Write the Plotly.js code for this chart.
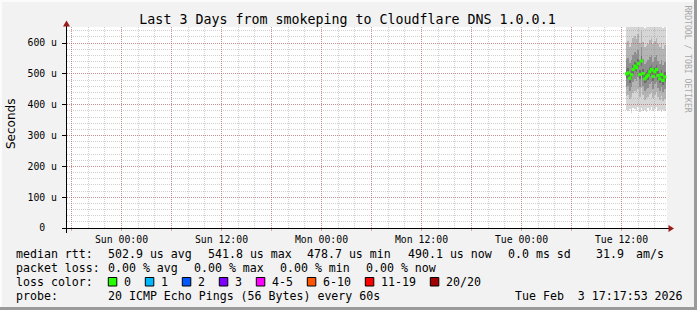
<!DOCTYPE html>
<html><head><meta charset="utf-8">
<script src="https://cdn.plot.ly/plotly-3.0.1.min.js"></script>
<style>html,body{margin:0;padding:0;background:#f2f2f2;}#chart{width:697px;height:310px;}</style>
</head><body><div id="chart"></div>
<script>
// ---------- data ----------
const times = ['2026-02-03 12:36','2026-02-03 12:48','2026-02-03 13:00','2026-02-03 13:12','2026-02-03 13:24','2026-02-03 13:36',
  '2026-02-03 13:48','2026-02-03 14:00','2026-02-03 14:12','2026-02-03 14:24','2026-02-03 14:36','2026-02-03 14:48',
  '2026-02-03 15:00','2026-02-03 15:12','2026-02-03 15:24','2026-02-03 15:36','2026-02-03 15:48','2026-02-03 16:00',
  '2026-02-03 16:12','2026-02-03 16:24','2026-02-03 16:36','2026-02-03 16:48','2026-02-03 17:00','2026-02-03 17:12'];
const medianRtt = [500,503,486,497,514,525,520,533,498,541.8,501,484,490,496,507,514,492,507,514,495,484,498,478.7,490.1];
const pingMax = [668,672,655,660,690,676,665,682,671,700,662,650,657,668,675,684,660,671,679,664,652,666,648,661];
const pingP90 = [600,606,588,598,615,622,614,628,600,640,604,586,592,598,610,616,596,608,615,598,588,600,582,594];
const pingP75 = [548,552,534,544,560,570,566,578,546,588,548,532,538,544,556,562,540,555,561,543,532,546,528,538];
const pingP60 = [515,518,501,511,529,540,535,548,513,557,516,499,505,511,522,529,507,522,529,510,499,513,494,505];
const pingP40 = [485,488,471,482,499,510,505,518,483,526,486,469,475,481,492,499,477,492,499,480,469,483,464,475];
const pingP25 = [458,462,446,456,472,482,478,490,457,498,460,444,450,455,466,472,452,466,473,455,444,457,440,450];
const pingP10 = [428,432,418,426,438,445,441,450,426,455,430,416,422,426,434,440,422,433,440,424,416,428,412,420];
const pingMin = [382,378,385,372,390,386,380,394,377,388,381,384,376,389,383,391,379,386,392,380,384,377,383,381];

const xTickVals = ['2026-01-31 18:00','2026-02-01 00:00','2026-02-01 06:00','2026-02-01 12:00','2026-02-01 18:00',
  '2026-02-02 00:00','2026-02-02 06:00','2026-02-02 12:00','2026-02-02 18:00','2026-02-03 00:00','2026-02-03 06:00','2026-02-03 12:00'];
const xTickText = ['','Sun 00:00','','Sun 12:00','','Mon 00:00','','Mon 12:00','','Tue 00:00','','Tue 12:00'];
const yTickVals = [0,100,200,300,400,500,600];
const yTickText = ['0\u00a0\u00a0','100 u','200 u','300 u','400 u','500 u','600 u'];

const lossLabels = ['0','1','2','3','4-5','6-10','11-19','20/20'];
const lossColors = ['#26ff00','#00b8ff','#0059ff','#7e00ff','#ff00ff','#ff5500','#ff0000','#a10000'];

const titleText = 'Last 3 Days from smokeping to Cloudflare DNS 1.0.0.1';
const probeText = '20 ICMP Echo Pings (56 Bytes) every 60s';
const dateText = 'Tue Feb  3 17:17:53 2026';
const lossStats = ['0.00 % avg','0.00 % max','0.00 % min','0.00 % now'];
const sdText = '0.0 ms sd';
const amsText = '31.9';

// ---------- layout helpers ----------
const W = 697, H = 310, L = 67, T = 27, PW = 600, PH = 201;
const px = x => (x - L) / PW;
const py = y => (T + PH - y) / PH;
const mono = 'DejaVu Sans Mono';
const stepMs = 12 * 60 * 1000;
const xRange = ['2026-01-31 17:27:36', '2026-02-03 17:27:36'];
const yRange = [0, 652];

function band(lo, hi, color) {
  return {type:'bar', x: times, base: lo, y: hi.map((v,i)=>v-lo[i]), width: stepMs,
    marker:{color: color, line:{width:0}}, xaxis:'x', yaxis:'y', hoverinfo:'skip', showlegend:false};
}
const traces = [
  band(pingMin, pingMax, '#d6d6d6'),
  band(pingP10, pingP90, '#b4b4b4'),
  band(pingP25, pingP75, '#8e8e8e'),
  band(pingP40, pingP60, '#6c6c6c'),
  {type:'scatter', mode:'markers', x: times, y: medianRtt, xaxis:'x2', yaxis:'y2',
   marker:{symbol:'square', size:3.2, color: lossColors[0], line:{width:0}}, hoverinfo:'skip', showlegend:false}
];

const avg = medianRtt.reduce((a,b)=>a+b,0)/medianRtt.length;
const mx = Math.max(...medianRtt), mn = Math.min(...medianRtt), now = medianRtt[medianRtt.length-1];

const ann = [];
function txt(x, y, s, extra) {
  ann.push(Object.assign({xref:'paper', yref:'paper', x: px(x), y: py(y), xanchor:'left', yanchor:'middle',
    text: s.replace(/ /g,'\u00a0'), showarrow:false, borderpad:0,
    font:{family: mono, size: 11.6, color:'#000'}}, extra || {}));
}
const L1 = 254, L2 = 268, L3 = 282, L4 = 296;
txt(15, L1, 'median rtt:');
txt(106.5, L1, avg.toFixed(1) + ' us avg');
txt(206.5, L1, mx.toFixed(1) + ' us max');
txt(306, L1, mn.toFixed(1) + ' us min');
txt(406.5, L1, now.toFixed(1) + ' us now');
txt(506.5, L1, sdText);
txt(594.5, L1, amsText);
txt(634.5, L1, 'am/s');
txt(15, L2, 'packet loss:');
[106.5, 192.5, 278.5, 364.5].forEach((x,i)=>txt(x, L2, lossStats[i]));
txt(15, L3, 'loss color:');
txt(15, L4, 'probe:');
txt(106.5, L4, probeText);
txt(513.5, L4, dateText);

const shapes = [];
// plot background (below everything)
shapes.push({type:'rect', xref:'paper', yref:'paper', x0:0, x1:1, y0:0, y1:1, fillcolor:'#ffffff', line:{width:0}, layer:'below'});
// loss colour swatches
let bx = 108.3;
lossLabels.forEach((lab, i) => {
  shapes.push({type:'rect', xref:'paper', yref:'paper', x0:px(bx), x1:px(bx+8.5), y0:py(286), y1:py(277.5),
    fillcolor: lossColors[i], line:{color:'#000', width:1}});
  txt(bx + 14.5, L3, lab);
  bx += 30 + 7 * lab.length;
});
// frame (3D border)
shapes.push({type:'rect', xref:'paper', yref:'paper', x0:px(0), x1:px(W), y0:py(0), y1:py(2), fillcolor:'#fbfbfb', line:{width:0}});
shapes.push({type:'rect', xref:'paper', yref:'paper', x0:px(0), x1:px(2), y0:py(0), y1:py(H), fillcolor:'#fbfbfb', line:{width:0}});
shapes.push({type:'rect', xref:'paper', yref:'paper', x0:px(W-3), x1:px(W), y0:py(0), y1:py(H), fillcolor:'#9a9a9a', line:{width:0}});
shapes.push({type:'rect', xref:'paper', yref:'paper', x0:px(0), x1:px(W), y0:py(H-3), y1:py(H), fillcolor:'#9a9a9a', line:{width:0}});
// axes lines + arrows
shapes.push({type:'line', xref:'paper', yref:'paper', x0:px(62), x1:px(669), y0:py(228.5), y1:py(228.5), line:{color:'#000', width:1}});
shapes.push({type:'line', xref:'paper', yref:'paper', x0:px(66.5), x1:px(66.5), y0:py(233), y1:py(25), line:{color:'#000', width:1}});
const arrowCol = '#9b1a1a';
shapes.push({type:'path', xref:'paper', yref:'paper', fillcolor: arrowCol, line:{width:0},
  path:`M${px(668.5)},${py(225)} L${px(674)},${py(228.5)} L${px(668.5)},${py(232)} Z`});
shapes.push({type:'path', xref:'paper', yref:'paper', fillcolor: arrowCol, line:{width:0},
  path:`M${px(63)},${py(26.5)} L${px(66.5)},${py(20.5)} L${px(70)},${py(26.5)} Z`});

// y axis title & watermark
ann.push({xref:'paper', yref:'paper', x:px(11), y:py(124), xanchor:'center', yanchor:'middle', textangle:-90,
  text:'Seconds', showarrow:false, font:{family:'DejaVu Sans', size:12, color:'#000'}});
ann.push({xref:'paper', yref:'paper', x:px(687.5), y:py(59), xanchor:'center', yanchor:'middle', textangle:90,
  text:'RRDTOOL / TOBI OETIKER'.replace(/ /g,'\u00a0'), showarrow:false, font:{family: mono, size:8.1, color:'#a8a8a8'}});

const majGrid = 'rgba(190,60,60,0.42)';
const minGrid = 'rgba(140,140,140,0.40)';
const layout = {
  width: W, height: H,
  margin:{l:L, r:W-L-PW, t:T, b:H-T-PH, pad:0},
  paper_bgcolor:'#f2f2f2', plot_bgcolor:'rgba(0,0,0,0)',
  barmode:'overlay', bargap:0, showlegend:false,
  title:{text: titleText, x: 347.5/W, xanchor:'center', y: 1 - 19/H, yanchor:'middle',
    font:{family: mono, size: 13.3, color:'#000'}},
  xaxis:{type:'date', range: xRange, visible:false, domain:[0,1], anchor:'y', fixedrange:true},
  yaxis:{range: yRange, visible:false, domain:[0,1], anchor:'x', fixedrange:true},
  xaxis2:{type:'date', range: xRange, domain:[0,1], anchor:'y2', fixedrange:true,
    tickmode:'array', tickvals: xTickVals, ticktext: xTickText,
    showgrid:true, gridcolor: majGrid, griddash:'1px,1px', gridwidth:1,
    ticks:'outside', ticklen:2, tickcolor: majGrid, showline:false, zeroline:false,
    tickfont:{family: mono, size: 9.8, color:'#000'},
    minor:{dtick: 2*3600*1000, tick0:'2026-01-31 00:00', showgrid:true, gridcolor: minGrid, griddash:'1px,1px', gridwidth:1, ticks:''}},
  yaxis2:{range: yRange, domain:[0,1], anchor:'x2', fixedrange:true,
    tickmode:'array', tickvals: yTickVals, ticktext: yTickText,
    showgrid:true, gridcolor: majGrid, griddash:'1px,1px', gridwidth:1,
    ticks:'outside', ticklen:4, tickcolor:'#000', showline:false, zeroline:false, ticklabelstandoff:3,
    tickfont:{family: mono, size: 9.8, color:'#000'},
    minor:{dtick: 20, showgrid:true, gridcolor: minGrid, griddash:'1px,1px', gridwidth:1, ticks:''}},
  shapes: shapes,
  annotations: ann
};
Plotly.newPlot('chart', traces, layout, {staticPlot:true, displayModeBar:false});
</script></body></html>
